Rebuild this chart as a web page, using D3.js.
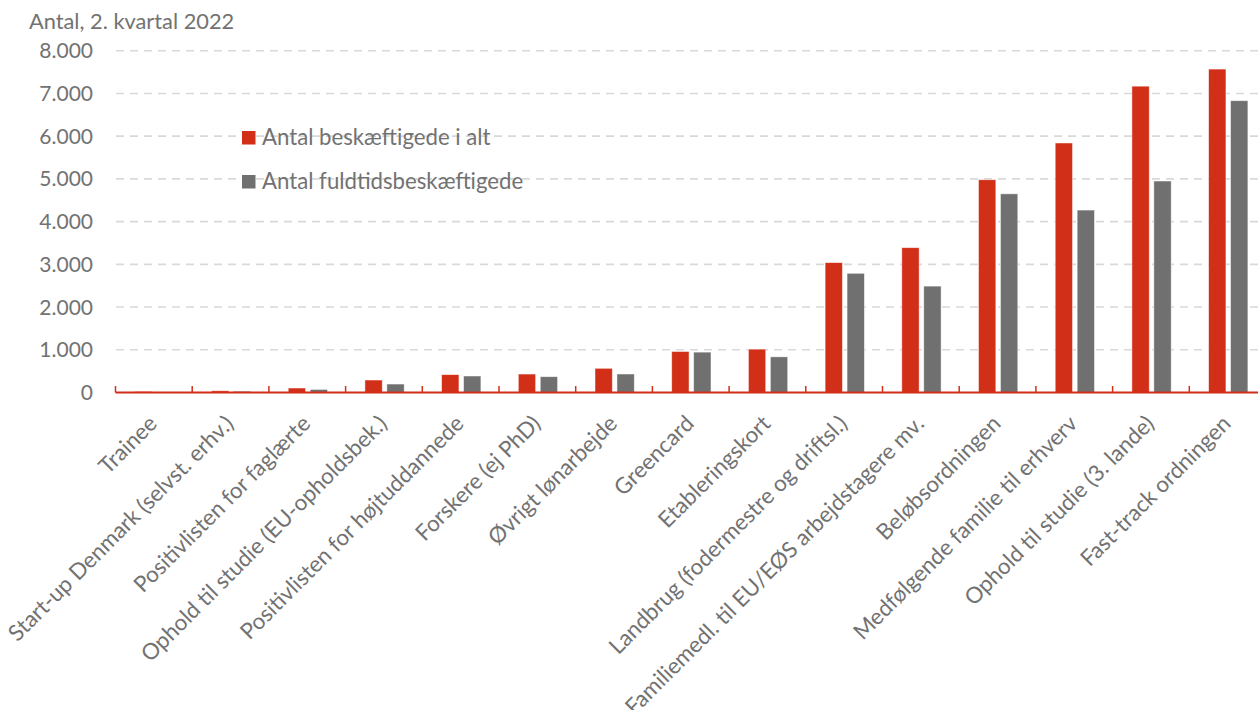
<!DOCTYPE html>
<html>
<head>
<meta charset="utf-8">
<script src="https://cdn.jsdelivr.net/npm/d3@7"></script>
<style>
  html, body { margin: 0; padding: 0; background: #fff; }
  svg { display: block; }
  text { font-family: Lato, "Open Sans", sans-serif; fill: #727272; }
</style>
</head>
<body>
<svg id="chart" width="1258" height="710"></svg>
<script>
const categories = [
  "Trainee",
  "Start-up Denmark (selvst. erhv.)",
  "Positivlisten for faglærte",
  "Ophold til studie (EU-opholdsbek.)",
  "Positivlisten for højtuddannede",
  "Forskere (ej PhD)",
  "Øvrigt lønarbejde",
  "Greencard",
  "Etableringskort",
  "Landbrug (fodermestre og driftsl.)",
  "Familiemedl. til EU/EØS arbejdstagere mv.",
  "Beløbsordningen",
  "Medfølgende familie til erhverv",
  "Ophold til studie (3. lande)",
  "Fast-track ordningen"
];
const seriesNames = ["Antal beskæftigede i alt", "Antal fuldtidsbeskæftigede"];
const totalEmployed = [25, 40, 105, 292, 418, 432, 566, 960, 1015, 3040, 3390, 4980, 5840, 7170, 7570];
const fullTimeEmployed = [12, 30, 72, 198, 386, 370, 433, 945, 835, 2790, 2490, 4650, 4270, 4950, 6830];
const yTicks = [0, 1000, 2000, 3000, 4000, 5000, 6000, 7000, 8000];
const title = "Antal, 2. kvartal 2022";
const colors = ["#D22F18", "#707070"];

const svg = d3.select("#chart");
const W = 1258, H = 710;

const x = d3.scaleBand().domain(categories).range([115.5, 1266]).paddingInner(0).paddingOuter(0);
const xInner = d3.scaleBand().domain([0, 1]).range([19.3, 58.6]).paddingInner(0.21).paddingOuter(0);
const y = d3.scaleLinear().domain([0, 8000]).range([392.5, 50.7]);

const loc = d3.formatLocale({decimal: ",", thousands: ".", grouping: [3], currency: ["", " kr"]});
const fmt = loc.format(",d");

// gridlines
svg.append("g").selectAll("line")
  .data(yTicks.filter(d => d > 0))
  .join("line")
  .attr("x1", 116).attr("x2", W)
  .attr("y1", d => y(d)).attr("y2", d => y(d))
  .attr("stroke", "#d9d9d9").attr("stroke-width", 1.6)
  .attr("stroke-dasharray", "8,6");

// y tick labels
svg.append("g").selectAll("text")
  .data(yTicks)
  .join("text")
  .attr("x", 93).attr("y", d => y(d))
  .attr("dy", "0.36em")
  .attr("text-anchor", "end")
  .attr("font-size", 21)
  .text(d => fmt(d));

// title
svg.append("text").attr("x", 29).attr("y", 29).attr("font-size", 21.8).text(title);

// bars
const data = categories.map((c, i) => ({c, vals: [totalEmployed[i], fullTimeEmployed[i]]}));
const groups = svg.append("g").selectAll("g")
  .data(data).join("g")
  .attr("transform", d => `translate(${x(d.c)},0)`);
groups.selectAll("rect")
  .data(d => d.vals.map((v, k) => ({v, k})))
  .join("rect")
  .attr("x", d => xInner(d.k))
  .attr("width", xInner.bandwidth())
  .attr("y", d => y(d.v))
  .attr("height", d => y(0) - y(d.v))
  .attr("fill", d => colors[d.k])
  .attr("stroke", "#ffffff").attr("stroke-opacity", 0.6).attr("stroke-width", 0.8);

// x axis line and ticks
const axisG = svg.append("g");
axisG.append("line")
  .attr("x1", 115.5).attr("x2", W)
  .attr("y1", y(0)).attr("y2", y(0))
  .attr("stroke", colors[0]).attr("stroke-width", 2);
axisG.selectAll("line.tick")
  .data(categories)
  .join("line").attr("class", "tick")
  .attr("x1", d => x(d)).attr("x2", d => x(d))
  .attr("y1", y(0)).attr("y2", y(0) - 6.5)
  .attr("stroke", colors[0]).attr("stroke-width", 1.5);

// category labels
svg.append("g").selectAll("text")
  .data(categories)
  .join("text")
  .attr("text-anchor", "end")
  .attr("font-size", 22.3)
  .attr("transform", d => `translate(${x(d) + x.bandwidth() / 2 + 4.5},425) rotate(-45)`)
  .text(d => d);

// legend
const leg = svg.append("g");
seriesNames.forEach((name, i) => {
  const yy = 131 + i * 44;
  leg.append("rect").attr("x", 242).attr("y", yy).attr("width", 13.5).attr("height", 13.5).attr("fill", colors[i]);
  leg.append("text").attr("x", 262).attr("y", yy + 14).attr("font-size", 22.2).text(name);
});
</script>
</body>
</html>
